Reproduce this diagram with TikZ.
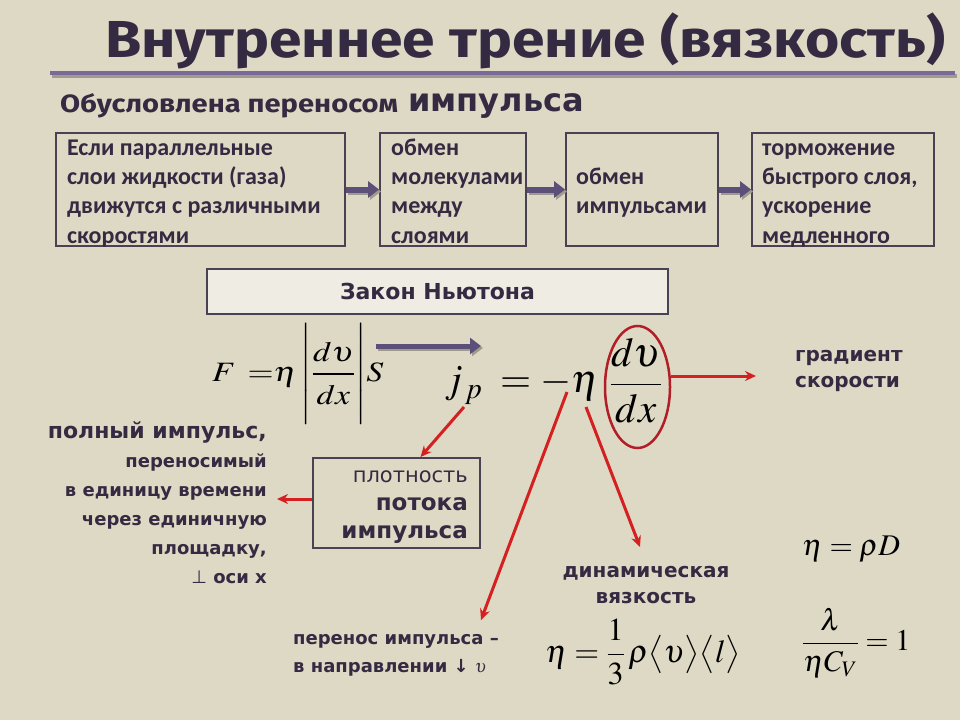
\documentclass[tikz,border=0pt]{standalone}
\usepackage{amsmath}
\usepackage{mathptmx}
\usepackage[no-math]{fontspec}
\usepackage{graphicx}
\usetikzlibrary{arrows.meta,shapes.geometric}
\setmainfont{DejaVu Sans}
\newfontfamily\carl{Carlito}
\newfontfamily\fira{Fira Sans}
\newfontfamily\dvs{DejaVu Sans}
\definecolor{bg}{RGB}{222,217,196}
\definecolor{ink}{RGB}{52,42,66}
\definecolor{boxline}{RGB}{72,66,82}
\definecolor{purp}{RGB}{92,80,122}
\definecolor{lav}{RGB}{122,106,154}
\definecolor{redar}{RGB}{212,32,32}
\definecolor{redell}{RGB}{178,30,40}
\definecolor{lightbox}{RGB}{239,236,228}
\tikzset{
  stepbox/.style={draw=boxline, line width=1.8pt, fill=bg, inner sep=0pt, minimum height=113pt},
  boxtext/.style={inner sep=0pt, align=left, anchor=north west, text=ink,
    font=\carl\bfseries\fontsize{24}{29.3}\selectfont},
  flowarrow/.style={line width=6pt, draw=purp, -{Triangle[length=11pt,width=16pt]}},
  flowshadow/.style={line width=6pt, draw=black!28!bg, -{Triangle[length=11pt,width=16pt]}},
  redarrow/.style={line width=3pt, draw=redar, -{Stealth[length=11pt,width=10pt]}},
  word/.style={inner sep=0pt, text=ink},
  formula/.style={inner sep=0pt, text=black},
}
\newcommand{\firstline}{\rule{0pt}{20pt}}
\begin{document}
\begin{tikzpicture}[x=1pt,y=-1pt]
\fill[bg] (0,0) rectangle (960,720);
\useasboundingbox (0,0) rectangle (960,720);

% title
\node[word, anchor=base west] (title) at (105,57)
  {\resizebox{840pt}{\height}{\fira\bfseries\fontsize{52}{56}\selectfont Внутреннее трение (вязкость)}};
\draw[line width=4pt, black!28!bg] (52,76) -- (957,76);
\draw[line width=4pt, lav] (50,73) -- (955,73);

\node[word, anchor=base west] (sub) at (60,112)
  {\resizebox{338pt}{\height}{\fira\bfseries\fontsize{25}{28}\selectfont Обусловлена переносом}};
\node[word, anchor=base west, font=\dvs\bfseries\fontsize{32}{36}\selectfont] (imp) at (408,111) {импульса};

% chain of boxes
\node[stepbox, minimum width=289pt] (b1) at (200.5,189.5) {};
\node[stepbox, minimum width=146pt] (b2) at (453,189.5) {};
\node[stepbox, minimum width=152pt] (b3) at (642,189.5) {};
\node[stepbox, minimum width=182pt] (b4) at (843,189.5) {};
\node[boxtext] (b1t) at (67,135) {\firstline Если параллельные\\слои жидкости (газа)\\движутся с различными\\скоростями};
\node[boxtext] (b2t) at (391,135) {\firstline обмен\\молекулами\\между\\слоями};
\node[boxtext] (b3t) at (576,164) {\firstline обмен\\импульсами};
\node[boxtext] (b4t) at (762,135) {\firstline торможение\\быстрого слоя,\\ускорение\\медленного};

\foreach \a/\b in {b1/b2,b2/b3,b3/b4}{
  \draw[flowshadow] ([xshift=2pt,yshift=-2pt]\a.east) -- ([xshift=2pt,yshift=-2pt]\b.west);
  \draw[flowarrow] (\a.east) -- (\b.west);
}

% Newton law
\node[draw=boxline, line width=2pt, fill=lightbox, minimum width=461pt, minimum height=45pt,
  inner sep=0pt, font=\dvs\bfseries\fontsize{22}{26}\selectfont, text=ink] (law) at (437.5,291.5) {Закон Ньютона};

\node[formula, anchor=west, font=\fontsize{28}{32}\selectfont] (fF) at (212,374)
  {\scalebox{1.2}[1]{$F\hspace{10pt}{=}\eta\left|\rule[-39.5pt]{0pt}{93pt}\dfrac{d\upsilon\rule[-9pt]{0pt}{9pt}}{\rule{0pt}{27pt}dx}\right|\!S$}};
\coordinate (pa1) at (376,346);
\coordinate (pa2) at (481,346);
\draw[flowshadow, line width=5pt] ([xshift=2pt,yshift=-2pt]pa1) -- ([xshift=2pt,yshift=-2pt]pa2);
\draw[flowarrow, line width=5pt] (pa1) -- (pa2);

\node[formula, anchor=base east, font=\fontsize{40}{48}\selectfont] (fj) at (599,392) {$j_{\,p}\;=-\eta$};
\node[formula, font=\fontsize{41}{48}\selectfont] (fr) at (636,381) {$\dfrac{d\upsilon}{dx}$};
\node[ellipse, draw=redell, line width=2.5pt, minimum width=65pt, minimum height=122pt, inner sep=0pt] (ell) at (637.5,387) {};

% gradient
\node[word, anchor=north west, align=left, font=\dvs\bfseries\fontsize{20}{26}\selectfont] (grad) at (795,350) {градиент\\скорости};
\coordinate (gtip) at (756,376);
\draw[redarrow] ([yshift=11pt]ell.east) -- (gtip);

% momentum flux density box
\node[draw=boxline, line width=2pt, minimum width=167pt, minimum height=90pt, inner sep=0pt] (ppi) at (396.5,503) {};
\node[word, anchor=north east, align=right, font=\dvs\fontsize{21}{28}\selectfont] (ppit) at (468,471)
  {плотность\\{\bfseries\fontsize{23}{28}\selectfont потока}\\{\bfseries\fontsize{23}{28}\selectfont импульса}};
\coordinate (jfoot) at (464,407);
\draw[redarrow] (jfoot) -- ([xshift=24pt]ppi.north);

\node[word, anchor=north east, align=right, font=\dvs\bfseries\fontsize{18}{29}\selectfont] (full) at (267,421)
  {{\fontsize{22}{29}\selectfont полный импульс,}\\переносимый\\в единицу времени\\через единичную\\площадку,\\{\mdseries ⊥} оси x};
\coordinate (ltip) at (277,499);
\draw[redarrow] ([yshift=4pt]ppi.west) -- (ltip);

% transfer direction
\coordinate (mfoot) at (567,392);
\coordinate (ptip) at (481,620);
\draw[redarrow] (mfoot) -- (ptip);
\node[word, anchor=north west, align=left, font=\dvs\bfseries\fontsize{18}{28}\selectfont] (pe) at (293,634)
  {перенос импульса –\\в направлении ↓ {\mdseries$\upsilon$}};

% dynamic viscosity
\coordinate (efoot) at (586,407);
\coordinate (dtip) at (640,547);
\draw[redarrow] (efoot) -- (dtip);
\node[word, align=center, font=\dvs\bfseries\fontsize{20}{26}\selectfont] (dyn) at (646,585) {динамическая\\вязкость};

\node[formula, font=\fontsize{32}{38}\selectfont] (eta3) at (643,652)
  {$\eta=\dfrac{1}{3}\,\rho\bigl\langle\upsilon\bigr\rangle\bigl\langle l\bigr\rangle$};
\node[formula, anchor=west, font=\fontsize{30}{36}\selectfont] (etaD) at (802,549) {$\eta=\rho D$};
\node[formula, anchor=west, font=\fontsize{30}{36}\selectfont] (lam) at (802,643) {$\dfrac{\lambda}{\eta C_V}=1$};
\end{tikzpicture}
\end{document}
